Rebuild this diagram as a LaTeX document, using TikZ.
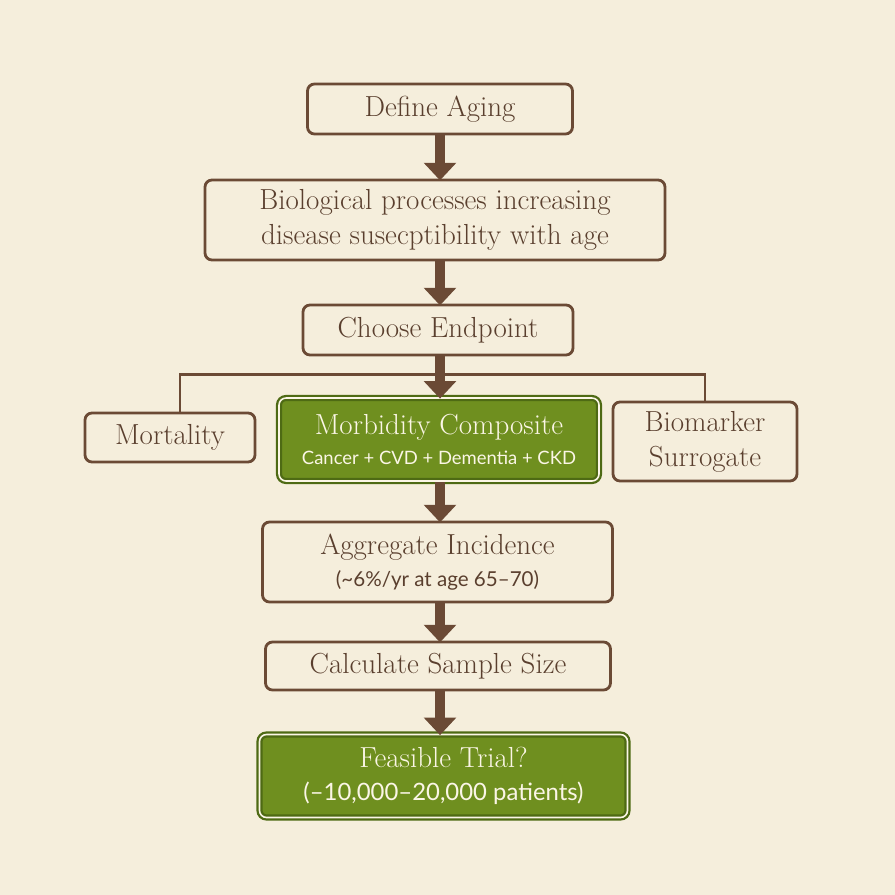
\documentclass[tikz,border=0pt]{standalone}
\usepackage{fontspec}
\newfontfamily\subfont{Lato}
\usepackage{tikz}
\usetikzlibrary{arrows.meta, positioning}

\definecolor{paper}{HTML}{F5EEDC}
\definecolor{bark}{HTML}{6B4A35}
\definecolor{inkbrown}{HTML}{5A3F2E}
\definecolor{leaf}{HTML}{6F8F1F}
\definecolor{leafdark}{HTML}{4E6A14}
\definecolor{cream}{HTML}{FBF6E6}

\begin{document}
\begin{tikzpicture}[
    % Styles for each node type
    stepbox/.style={rectangle, rounded corners=4pt, draw=bark, line width=1.6pt, fill=paper, align=center, text=inkbrown, inner sep=0pt, font=\fontsize{16.5}{20}\selectfont},
    keybox/.style={rectangle, rounded corners=4pt, draw=leafdark, double=cream, double distance=0.9pt, line width=1.3pt, fill=leaf, align=center, text=cream, inner sep=0pt, font=\fontsize{16.5}{20}\selectfont},
    arrow/.style={line width=5.5pt, bark, -{Triangle[width=18pt, length=10pt]}, shorten >=-1pt},
    branch/.style={line width=1.6pt, bark}
]

% Background and page size
\fill[paper] (0,0) rectangle (17.9,-17.9);

% Top of the flow
\node[stepbox, minimum width=5.3cm, minimum height=1.0cm] (def) at (8.80,-2.18) {Define Aging};
\node[stepbox, minimum width=9.2cm, minimum height=1.6cm] (bio) at (8.70,-4.40) {Biological processes increasing\\disease susecptibility with age};
\node[stepbox, minimum width=5.4cm, minimum height=1.0cm] (ce) at (8.76,-6.60) {Choose Endpoint};

% Endpoint options
\node[stepbox, minimum width=3.4cm, minimum height=0.98cm] (mort) at (3.40,-8.75) {Mortality};
\node[keybox, minimum width=6.4cm, minimum height=1.66cm] (morb) at (8.78,-8.79) {Morbidity Composite\\[-3pt]{\subfont\fontsize{10.5}{13}\selectfont Cancer + CVD + Dementia + CKD}};
\node[stepbox, minimum width=3.68cm, minimum height=1.58cm] (bm) at (14.10,-8.83) {Biomarker\\Surrogate};

% Lower part of the flow
\node[stepbox, minimum width=7.0cm, minimum height=1.6cm] (agg) at (8.75,-11.24) {Aggregate Incidence\\[-2pt]{\subfont\fontsize{11.7}{14}\selectfont (\textasciitilde6\%/yr at age 65–70)}};
\node[stepbox, minimum width=6.9cm, minimum height=0.96cm] (calc) at (8.76,-13.32) {Calculate Sample Size};
\node[keybox, minimum width=7.36cm, minimum height=1.66cm] (feas) at (8.87,-15.52) {Feasible Trial?\\[-1pt]{\subfont\fontsize{13.6}{17}\selectfont (–10,000–20,000 patients)}};

% Fork under Choose Endpoint
\coordinate (fork) at ([yshift=-0.36cm]ce.south);
\draw[branch] ([xshift=0.2cm]mort.north) |- (fork) -| (bm.north);

% Main arrows, kept upright on the spine
\draw[arrow] (def.south) -- (def.south |- bio.north);
\draw[arrow] (def.south |- bio.south) -- (def.south |- ce.north);
\draw[arrow] (def.south |- ce.south) -- (def.south |- morb.north);
\draw[arrow] (def.south |- morb.south) -- (def.south |- agg.north);
\draw[arrow] (def.south |- agg.south) -- (def.south |- calc.north);
\draw[arrow] (def.south |- calc.south) -- (def.south |- feas.north);

\end{tikzpicture}
\end{document}
